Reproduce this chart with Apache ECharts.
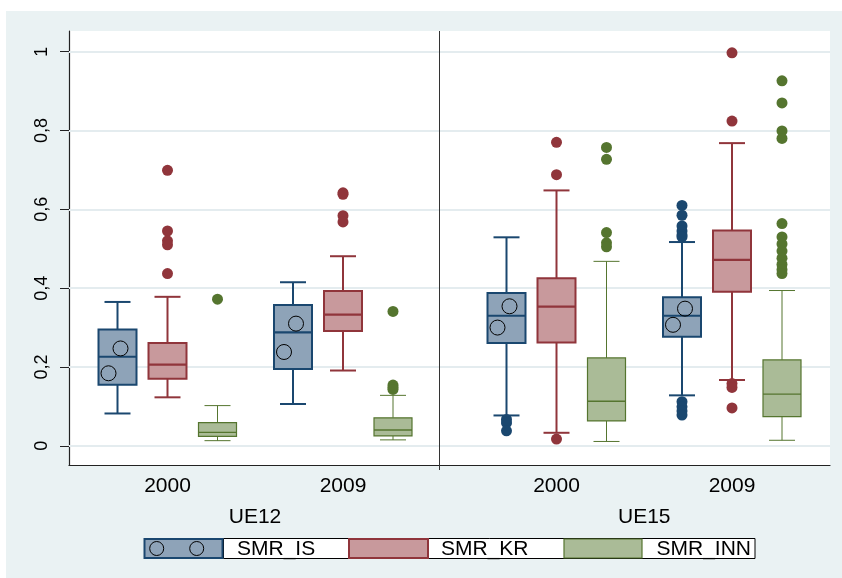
<!DOCTYPE html>
<html><head><meta charset="utf-8">
<script src="https://cdn.jsdelivr.net/npm/echarts@6/dist/echarts.min.js"></script>
<style>html,body{margin:0;padding:0;background:#fff}#c{width:842px;height:578px}</style>
</head><body><div id="c"></div>
<script>
// ---------------- data ----------------
const seriesNames = ['SMR_IS', 'SMR_KR', 'SMR_INN'];
const yearLabels = ['2000', '2009', '2000', '2009'];
const panelLabels = ['UE12', 'UE15'];
const yTicks = [0, 0.2, 0.4, 0.6, 0.8, 1];
const yTickLabels = ['0', '0,2', '0,4', '0,6', '0,8', '1'];

// [lower whisker, Q1, median, Q3, upper whisker] for UE12-2000, UE12-2009, UE15-2000, UE15-2009
const isBoxes = [
  [0.082, 0.155, 0.226, 0.295, 0.365],
  [0.106, 0.195, 0.288, 0.357, 0.415],
  [0.077, 0.261, 0.330, 0.388, 0.529],
  [0.128, 0.277, 0.330, 0.377, 0.517]
];
const krBoxes = [
  [0.123, 0.170, 0.206, 0.261, 0.378],
  [0.191, 0.291, 0.333, 0.393, 0.481],
  [0.033, 0.262, 0.353, 0.425, 0.648],
  [0.167, 0.391, 0.472, 0.546, 0.768]
];
const innBoxes = [
  [0.013, 0.024, 0.034, 0.059, 0.102],
  [0.015, 0.025, 0.040, 0.071, 0.128],
  [0.011, 0.063, 0.113, 0.223, 0.468],
  [0.014, 0.074, 0.131, 0.218, 0.394]
];
const isOutliers = [
  [],
  [],
  [0.067, 0.058, 0.038],
  [0.610, 0.585, 0.558, 0.545, 0.535, 0.530, 0.112, 0.099, 0.088, 0.078]
];
const krOutliers = [
  [0.699, 0.545, 0.520, 0.510, 0.437],
  [0.642, 0.638, 0.584, 0.568],
  [0.770, 0.688, 0.017],
  [0.997, 0.824, 0.158, 0.148, 0.096]
];
const innOutliers = [
  [0.372],
  [0.341, 0.154, 0.148, 0.143],
  [0.757, 0.727, 0.541, 0.515, 0.505],
  [0.926, 0.870, 0.799, 0.780, 0.564, 0.530, 0.512, 0.494, 0.476, 0.460, 0.447, 0.437]
];
// hollow circle markers drawn inside the SMR_IS boxes
const isCircleUpper = [0.247, 0.310, 0.354, 0.348];
const isCircleLower = [0.184, 0.238, 0.300, 0.307];

// ---------------- layout ----------------
const groupCenters = [1.97, 5.48, 9.75, 13.26];   // x-axis slot units
const slotOffsets = [-1, 0, 1];
const panelCenters = [3.72, 11.505];
const dividerX = 7.4;
const xMax = 15.22;
const strokes = ['#1a476f', '#90353b', '#55752f'];
const fills = ['#8ea3b8', '#c8999c', '#aabb97'];
const FONT = "'Liberation Sans', Arial, sans-serif";

const allBoxes = [isBoxes, krBoxes, innBoxes];
const allOutliers = [isOutliers, krOutliers, innOutliers];
const lineW = [
  {wl: 2, bl: 2, ml: 2.2},
  {wl: 2, bl: 2, ml: 2.2},
  {wl: 1, bl: 1.2, ml: 1.4}
];

function renderBox(si) {
  return function (params, api) {
    const x = api.value(0);
    const pMin = api.coord([x, api.value(1)]);
    const pQ1 = api.coord([x, api.value(2)]);
    const pMed = api.coord([x, api.value(3)]);
    const pQ3 = api.coord([x, api.value(4)]);
    const pMax = api.coord([x, api.value(5)]);
    const cx = pMin[0];
    const hw = 19, cw = 13;
    const st = strokes[si], w = lineW[si];
    return {
      type: 'group',
      children: [
        {type: 'line', shape: {x1: cx, y1: pQ3[1], x2: cx, y2: pMax[1]}, style: {stroke: st, lineWidth: w.wl}},
        {type: 'line', shape: {x1: cx, y1: pQ1[1], x2: cx, y2: pMin[1]}, style: {stroke: st, lineWidth: w.wl}},
        {type: 'line', shape: {x1: cx - cw, y1: pMax[1], x2: cx + cw, y2: pMax[1]}, style: {stroke: st, lineWidth: w.wl}},
        {type: 'line', shape: {x1: cx - cw, y1: pMin[1], x2: cx + cw, y2: pMin[1]}, style: {stroke: st, lineWidth: w.wl}},
        {type: 'rect', shape: {x: cx - hw, y: pQ3[1], width: 2 * hw, height: pQ1[1] - pQ3[1]},
          style: {fill: fills[si], stroke: st, lineWidth: w.bl}},
        {type: 'line', shape: {x1: cx - hw, y1: pMed[1], x2: cx + hw, y2: pMed[1]}, style: {stroke: st, lineWidth: w.ml}}
      ]
    };
  };
}

const series = [];
// gridlines
series.push({
  type: 'line', data: [], silent: true, z: 1,
  markLine: {
    silent: true, symbol: 'none', label: {show: false}, animation: false, z: 1,
    lineStyle: {color: '#e4ecef', width: 2, type: 'solid'},
    data: yTicks.map(v => ({yAxis: v}))
  }
});
seriesNames.forEach((name, si) => {
  series.push({
    name: name, type: 'custom', z: 6,
    renderItem: renderBox(si),
    encode: {x: 0, y: [1, 2, 3, 4, 5]},
    data: allBoxes[si].map((b, gi) => [groupCenters[gi] + slotOffsets[si]].concat(b))
  });
  const pts = [];
  allOutliers[si].forEach((arr, gi) => arr.forEach(v => pts.push([groupCenters[gi] + slotOffsets[si], v])));
  series.push({
    name: name + '_out', type: 'scatter', z: 7, symbol: 'circle', symbolSize: 11,
    itemStyle: {color: strokes[si], opacity: 1},
    data: pts
  });
});
[[isCircleUpper, [3, 0]], [isCircleLower, [-9, 0]]].forEach(([vals, off]) => {
  series.push({
    type: 'scatter', z: 8, symbol: 'circle', symbolSize: 15, symbolOffset: off,
    itemStyle: {color: 'rgba(0,0,0,0)', borderColor: '#000', borderWidth: 1, opacity: 1},
    data: vals.map((v, gi) => [groupCenters[gi] + slotOffsets[0], v])
  });
});

// legend drawn as graphic
const legendY = 538.5, legendH = 20;
const legendParts = [
  {sx: 143.5, sw: 80, tx: 237},
  {sx: 348, sw: 81, tx: 441},
  {sx: 563, sw: 80, tx: 656.5}
];
const legendGraphic = [
  {type: 'rect', z: 10, shape: {x: 223.5, y: legendY, width: 531.5, height: legendH},
    style: {fill: '#fff', stroke: '#000', lineWidth: 1}}
];
legendParts.forEach((p, i) => {
  legendGraphic.push({type: 'rect', z: 11, shape: {x: p.sx + 1, y: legendY + 0.5, width: p.sw - 2, height: legendH - 1},
    style: {fill: fills[i], stroke: strokes[i], lineWidth: i === 2 ? 1.2 : 2}});
  legendGraphic.push({type: 'text', z: 11, style: {x: p.tx, y: legendY + legendH / 2 + 1, text: seriesNames[i],
    font: '21px ' + FONT, fill: '#000', verticalAlign: 'middle', align: 'left'}});
});
[156.7, 196.7].forEach(cx => legendGraphic.push({type: 'circle', z: 12, shape: {cx: cx, cy: legendY + legendH / 2, r: 7},
  style: {fill: 'none', stroke: '#000', lineWidth: 1}}));

const chart = echarts.init(document.getElementById('c'), null, {renderer: 'canvas'});
const option = {
  animation: false,
  backgroundColor: '#fff',
  grid: {left: 69, right: 12, top: 31, bottom: 112.5, show: true, backgroundColor: '#fff', borderWidth: 0,
    containLabel: false, outerBoundsMode: 'none'},
  xAxis: [
    {type: 'value', min: 0, max: xMax, position: 'bottom',
      axisLine: {show: true, onZero: false, lineStyle: {color: '#222', width: 1.2}},
      axisTick: {show: false}, splitLine: {show: false},
      axisLabel: {customValues: groupCenters, margin: 10, fontSize: 21, fontFamily: FONT, color: '#000',
        formatter: v => yearLabels[groupCenters.findIndex(c => Math.abs(c - v) < 1e-6)]}},
    {type: 'value', min: 0, max: xMax, position: 'bottom',
      axisLine: {show: false}, axisTick: {show: false}, splitLine: {show: false},
      axisLabel: {customValues: panelCenters, margin: 41, fontSize: 21, fontFamily: FONT, color: '#000',
        formatter: v => panelLabels[panelCenters.findIndex(c => Math.abs(c - v) < 1e-6)]}}
  ],
  yAxis: {type: 'value', min: -0.05, max: 1.0525,
    axisLine: {show: true, lineStyle: {color: '#222', width: 1.2}},
    axisTick: {show: true, length: 9, customValues: yTicks, lineStyle: {color: '#222', width: 1}},
    splitLine: {show: false},
    axisLabel: {customValues: yTicks, rotate: 90, margin: 18, fontSize: 18, fontFamily: FONT, color: '#000',
      formatter: v => yTickLabels[yTicks.findIndex(t => Math.abs(t - v) < 1e-9)]}},
  series: series,
  graphic: [
    {type: 'rect', z: -10, silent: true, shape: {x: 6, y: 11, width: 836, height: 567}, style: {fill: '#eaf2f3'}}
  ].concat(legendGraphic)
};
chart.setOption(option);
const dx = chart.convertToPixel({xAxisIndex: 0}, dividerX);
chart.setOption({graphic: option.graphic.concat([
  {type: 'line', z: 9, shape: {x1: Math.round(dx) + 0.5, y1: 31, x2: Math.round(dx) + 0.5, y2: 470}, style: {stroke: '#333', lineWidth: 1}}
])});
</script>
</body></html>
